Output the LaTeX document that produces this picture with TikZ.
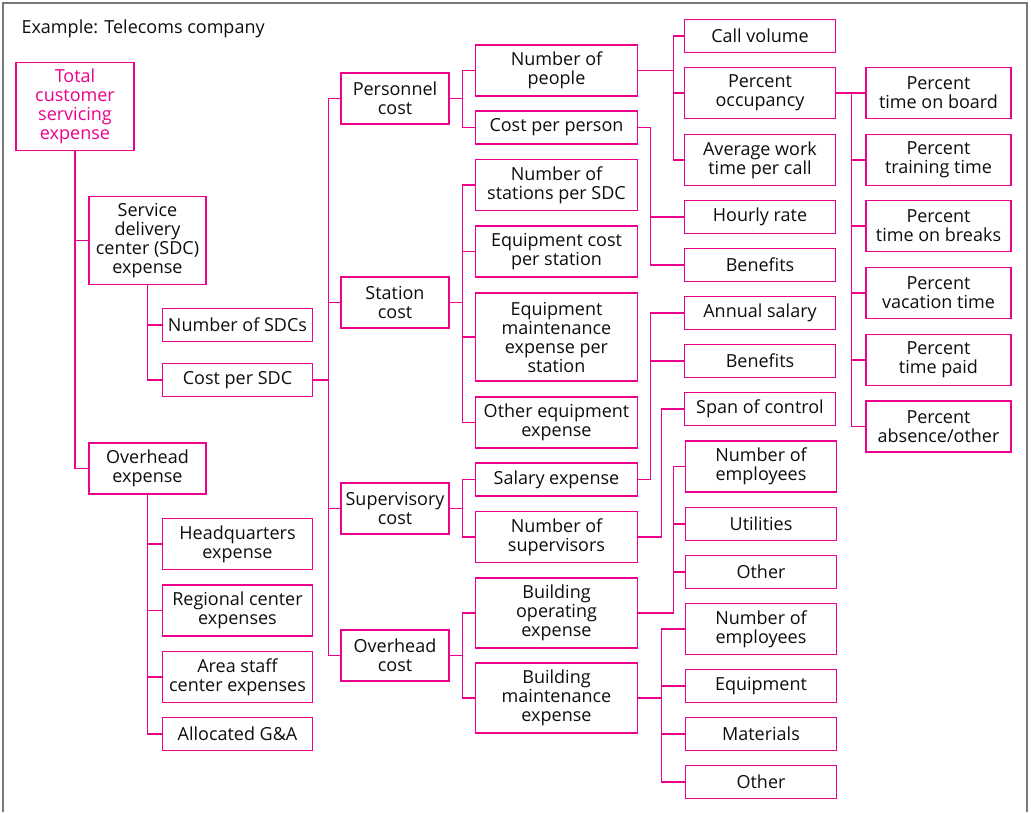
\documentclass[tikz,border=0pt]{standalone}
\usepackage{fontspec}
\setmainfont{Open Sans}
\definecolor{tcpink}{RGB}{236,0,140}
\definecolor{framegray}{RGB}{120,120,120}
\begin{document}
\begin{tikzpicture}[x=1pt,y=-1pt,
    box/.style={draw=tcpink, line width=1.3pt, align=center, inner sep=0pt,
      text=black!95, font=\fontsize{18}{19}\selectfont},
    link/.style={draw=tcpink, line width=1.3pt},
    hA/.style={minimum height=33},
    hB/.style={minimum height=51},
    hC/.style={minimum height=70},
    hD/.style={minimum height=88},
    colA/.style={box, minimum width=118},
    colB/.style={box, minimum width=117},
    colC/.style={box, minimum width=150},
    colD/.style={box, minimum width=108},
    colE/.style={box, minimum width=162},
    colF/.style={box, minimum width=151},
    colG/.style={box, minimum width=145},
  ]
  \useasboundingbox (0,0) rectangle (1031,812);
  \draw[framegray, line width=2pt] (3,812) -- (3,3) -- (1027,3) -- (1027,812);

  \node[anchor=west, font=\fontsize{18}{19}\selectfont, text=black!95] (title) at (18,29) {Example: Telecoms company};

  % left part
  \node[colA, hD, text=tcpink] (total) at (75,106.5) {Total\\customer\\servicing\\expense};
  \node[colB, hD] (sdc) at (147.5,240.5) {Service\\delivery\\center (SDC)\\expense};
  \node[colB, hB] (ovhexp) at (147.5,468.5) {Overhead\\expense};
  \node[colC, hA] (nsdc) at (237.5,325) {Number of SDCs};
  \node[colC, hA] (cpsdc) at (237.5,380) {Cost per SDC};
  \node[colC, hB] (hq) at (237.5,544) {Headquarters\\expense};
  \node[colC, hB] (regional) at (237.5,610.5) {Regional center\\expenses};
  \node[colC, hB] (area) at (237.5,677) {Area staff\\center expenses};
  \node[colC, hA] (ga) at (237.5,734) {Allocated G\&A};

  % cost groups
  \node[colD, hB] (pers) at (395,98.5) {Personnel\\cost};
  \node[colD, hB] (station) at (395,302.5) {Station\\cost};
  \node[colD, hB] (superv) at (395,508.5) {Supervisory\\cost};
  \node[colD, hB] (ovhcost) at (395,655.5) {Overhead\\cost};

  \node[colE, hB] (npeople) at (556.5,70.5) {Number of\\people};
  \node[colE, hA] (cpperson) at (556.5,127.5) {Cost per person};
  \node[colE, hB] (nstations) at (556.5,185) {Number of\\stations per SDC};
  \node[colE, hB] (eqcost) at (556.5,251.5) {Equipment cost\\per station};
  \node[colE, hD] (eqmaint) at (556.5,337) {Equipment\\maintenance\\expense per\\station};
  \node[colE, hB] (othereq) at (556.5,422.5) {Other equipment\\expense};
  \node[colE, hA] (salary) at (556.5,479.5) {Salary expense};
  \node[colE, hB] (nsuper) at (556.5,537) {Number of\\supervisors};
  \node[colE, hC] (bldop) at (556.5,613) {Building\\operating\\expense};
  \node[colE, hC] (bldmaint) at (556.5,698) {Building\\maintenance\\expense};

  % drivers
  \node[colF, hA] (callvol) at (760,36) {Call volume};
  \node[colF, hB] (occup) at (760,93) {Percent\\occupancy};
  \node[colF, hB] (avgwork) at (760,160) {Average work\\time per call};
  \node[colF, hA] (hourly) at (760,217) {Hourly rate};
  \node[colF, hA] (benefitsA) at (760,265) {Benefits};
  \node[colF, hA] (annual) at (760,313) {Annual salary};
  \node[colF, hA] (benefitsB) at (760,361) {Benefits};
  \node[colF, hA] (span) at (760,409) {Span of control};
  \node[colF, hB] (nemplA) at (761,466.5) {Number of\\employees};
  \node[colF, hA] (utilities) at (761,524) {Utilities};
  \node[colF, hA] (otherA) at (761,572) {Other};
  \node[colF, hB] (nemplB) at (761,629) {Number of\\employees};
  \node[colF, hA] (equipment) at (761,686) {Equipment};
  \node[colF, hA] (materials) at (761,734) {Materials};
  \node[colF, hA] (otherB) at (761,782) {Other};

  \node[colG, hB] (ponboard) at (938.5,93) {Percent\\time on board};
  \node[colG, hB] (ptraining) at (938.5,160) {Percent\\training time};
  \node[colG, hB] (pbreaks) at (938.5,226) {Percent\\time on breaks};
  \node[colG, hB] (pvacation) at (938.5,293) {Percent\\vacation time};
  \node[colG, hB] (ppaid) at (938.5,360) {Percent\\time paid};
  \node[colG, hB] (pabsence) at (938.5,426.5) {Percent\\absence/other};

  % connectors
  \foreach \c in {sdc,ovhexp} \draw[link] (total.south) |- (\c.west);
  \foreach \c in {nsdc,cpsdc} \draw[link] (sdc.south) |- (\c.west);
  \foreach \c in {hq,regional,area,ga} \draw[link] (ovhexp.south) |- (\c.west);
  \foreach \c in {pers,station,superv,ovhcost} \draw[link] (cpsdc.east) -- ++(15,0) |- (\c.west);
  \foreach \c in {npeople,cpperson} \draw[link] (pers.east) -- ++(13,0) |- (\c.west);
  \foreach \c in {nstations,eqcost,eqmaint,othereq} \draw[link] (station.east) -- ++(13,0) |- (\c.west);
  \foreach \c in {salary,nsuper} \draw[link] (superv.east) -- ++(13,0) |- (\c.west);
  \foreach \c in {bldop,bldmaint} \draw[link] (ovhcost.east) -- ++(13,0) |- (\c.west);
  \foreach \c in {callvol,occup,avgwork} \draw[link] (npeople.east) -- ++(35,0) |- (\c.west);
  \foreach \c in {hourly,benefitsA} \draw[link] (cpperson.east) -- ++(12,0) |- (\c.west);
  \foreach \c in {annual,benefitsB} \draw[link] (salary.east) -- ++(12,0) |- (\c.west);
  \draw[link] (nsuper.east) -- ++(23,0) |- (span.west);
  \foreach \c in {nemplA,utilities,otherA} \draw[link] (bldop.east) -- ++(35,0) |- (\c.west);
  \foreach \c in {nemplB,equipment,materials,otherB} \draw[link] (bldmaint.east) -- ++(23,0) |- (\c.west);
  \foreach \c in {ponboard,ptraining,pbreaks,pvacation,ppaid,pabsence} \draw[link] (occup.east) -- ++(15,0) |- (\c.west);
\end{tikzpicture}
\end{document}
